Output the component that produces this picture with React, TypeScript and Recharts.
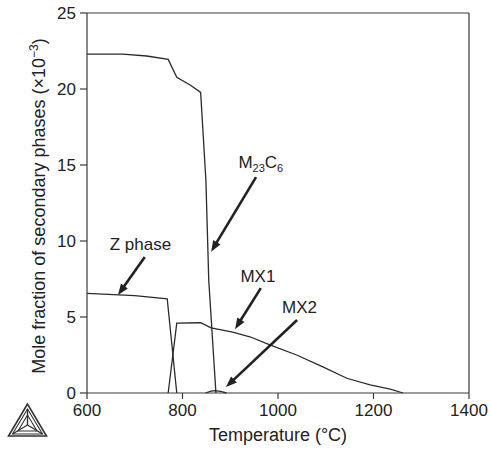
import React from "react";
import {
  LineChart,
  Line,
  XAxis,
  YAxis,
  ReferenceLine,
  ReferenceDot,
} from "recharts";

const FONT = '"Liberation Sans", Arial, Helvetica, sans-serif';
const INK = "#222";
const AXIS = "#3a3a3a";
const CURVE = "#2a2a2a";

const xTicks = [600, 800, 1000, 1200, 1400];
const yTicks = [0, 5, 10, 15, 20, 25];

// temperatures (°C) and mole fractions (x10^-3)
const m23c6Temp = [600, 675, 725, 770, 788, 816, 838, 849, 855, 870];
const m23c6Frac = [22.3, 22.3, 22.17, 21.95, 20.77, 20.26, 19.78, 14.0, 7.4, 0];

const zTemp = [600, 700, 768, 788];
const zFrac = [6.55, 6.4, 6.2, 0];

const mx1Temp = [770, 788, 838, 860, 905, 941, 983, 1039, 1094, 1144, 1193, 1235, 1262];
const mx1Frac = [0, 4.6, 4.62, 4.28, 4.0, 3.7, 3.16, 2.5, 1.72, 0.97, 0.53, 0.26, 0];

const mx2Temp = [848, 860, 868, 880, 892];
const mx2Frac = [0, 0.12, 0.16, 0.1, 0];

// annotation labels: text anchor point + arrow tail/head, in data units
const notes = [
  { key: "z", text: "Z phase", tx: 712, ty: 9.4, x1: 721, y1: 8.95, x2: 665, y2: 6.45 },
  { key: "m23", text: "M23C6", tx: 964, ty: 14.8, x1: 954, y1: 14.2, x2: 860, y2: 9.3 },
  { key: "mx1", text: "MX1", tx: 958, ty: 7.3, x1: 964, y1: 6.9, x2: 910, y2: 4.2 },
  { key: "mx2", text: "MX2", tx: 1045, ty: 5.26, x1: 1040, y1: 4.8, x2: 891, y2: 0.39 },
];

const pts = (t: number[], v: number[]) => t.map((x, i) => ({ t: x, v: v[i] }));

const series = [
  { key: "m23c6", data: pts(m23c6Temp, m23c6Frac) },
  { key: "z", data: pts(zTemp, zFrac) },
  { key: "mx1", data: pts(mx1Temp, mx1Frac) },
  { key: "mx2", data: pts(mx2Temp, mx2Frac) },
];

function Arrow(props: any) {
  const { x1, y1, x2, y2 } = props;
  const dx = x2 - x1;
  const dy = y2 - y1;
  const len = Math.hypot(dx, dy) || 1;
  const ux = dx / len;
  const uy = dy / len;
  const head = 11;
  const half = 4.2;
  const bx = x2 - ux * head;
  const by = y2 - uy * head;
  const px = -uy * half;
  const py = ux * half;
  return (
    <g>
      <line x1={x1} y1={y1} x2={bx + ux * 2} y2={by + uy * 2} stroke={INK} strokeWidth={2.6} />
      <polygon
        points={`${x2},${y2} ${bx + px},${by + py} ${bx - px},${by - py}`}
        fill={INK}
      />
    </g>
  );
}

function NoteText({ cx, cy, text }: any) {
  if (text === "M23C6") {
    return (
      <text x={cx} y={cy} textAnchor="middle" fontSize={17} fill={INK} fontFamily={FONT}>
        M<tspan fontSize={11} dy={4}>23</tspan>
        <tspan dy={-4}>C</tspan>
        <tspan fontSize={11} dy={4}>6</tspan>
      </text>
    );
  }
  return (
    <text x={cx} y={cy} textAnchor="middle" fontSize={17} fill={INK} fontFamily={FONT}>
      {text}
    </text>
  );
}

function YTitle({ viewBox }: any) {
  const x = viewBox.x + 45;
  const y = viewBox.y + viewBox.height / 2 + 3;
  return (
    <text
      x={x}
      y={y}
      transform={`rotate(-90 ${x} ${y})`}
      textAnchor="middle"
      fontSize={18}
      fill={INK}
      fontFamily={FONT}
    >
      Mole fraction of secondary phases (×10
      <tspan fontSize={12} dy={-7}>−3</tspan>
      <tspan dy={7}>)</tspan>
    </text>
  );
}

function XTitle({ viewBox }: any) {
  return (
    <text
      x={viewBox.x + viewBox.width / 2}
      y={viewBox.y + 48}
      textAnchor="middle"
      fontSize={18}
      fill={INK}
      fontFamily={FONT}
    >
      Temperature (°C)
    </text>
  );
}

function Logo() {
  return (
    <svg
      width={44}
      height={40}
      style={{ position: "absolute", left: 6, top: 400 }}
      viewBox="0 0 44 40"
    >
      <g fill="none" stroke="#333" strokeLinejoin="miter">
        <polygon points="21.5,4 2.5,36 40.5,36" strokeWidth={1.6} />
        <polygon points="21.5,9 6.5,34 36.5,34" strokeWidth={1.1} />
        <polygon points="21.5,15 12,31 31,31" strokeWidth={1.1} />
        <line x1={21.5} y1={9} x2={21.5} y2={25} strokeWidth={1.4} />
        <line x1={6.5} y1={34} x2={21.5} y2={25} strokeWidth={1.4} />
        <line x1={36.5} y1={34} x2={21.5} y2={25} strokeWidth={1.4} />
      </g>
    </svg>
  );
}

export default function App() {
  const tick = { fontSize: 17, fill: INK, fontFamily: FONT };
  return (
    <div style={{ position: "absolute", left: 0, top: 0, width: 490, height: 450, background: "#fff" }}>
      <LineChart
        width={490}
        height={450}
        margin={{ top: 0, right: 0, bottom: 0, left: 0 }}
        style={{ fontFamily: FONT }}
      >
        <XAxis
          xAxisId="bottom"
          dataKey="t"
          type="number"
          domain={[600, 1400]}
          ticks={xTicks}
          height={57}
          tick={tick}
          tickSize={6}
          tickMargin={5}
          stroke={AXIS}
          strokeWidth={1.2}
          label={<XTitle />}
        />
        <XAxis
          xAxisId="top"
          orientation="top"
          type="number"
          domain={[600, 1400]}
          ticks={xTicks}
          height={13}
          tickFormatter={() => ""}
          tickSize={6}
          stroke={AXIS}
          strokeWidth={1.2}
        />
        <YAxis
          yAxisId="left"
          type="number"
          domain={[0, 25]}
          ticks={yTicks}
          width={87}
          tick={tick}
          tickSize={7}
          tickMargin={4}
          stroke={AXIS}
          strokeWidth={1.2}
          label={<YTitle />}
        />
        <YAxis
          yAxisId="right"
          orientation="right"
          type="number"
          domain={[0, 25]}
          ticks={yTicks}
          width={21}
          tickFormatter={() => ""}
          tickSize={7}
          stroke={AXIS}
          strokeWidth={1.2}
        />
        {series.map((s) => (
          <Line
            key={s.key}
            xAxisId="bottom"
            yAxisId="left"
            data={s.data}
            dataKey="v"
            type="linear"
            stroke={CURVE}
            strokeWidth={1.3}
            dot={false}
            activeDot={false}
            isAnimationActive={false}
          />
        ))}
        {notes.map((n) => (
          <ReferenceLine
            key={"a" + n.key}
            xAxisId="bottom"
            yAxisId="left"
            segment={[
              { x: n.x1, y: n.y1 },
              { x: n.x2, y: n.y2 },
            ]}
            shape={<Arrow />}
          />
        ))}
        {notes.map((n) => (
          <ReferenceDot
            key={"t" + n.key}
            xAxisId="bottom"
            yAxisId="left"
            x={n.tx}
            y={n.ty}
            r={0}
            shape={<NoteText text={n.text} />}
          />
        ))}
      </LineChart>
      <Logo />
    </div>
  );
}
